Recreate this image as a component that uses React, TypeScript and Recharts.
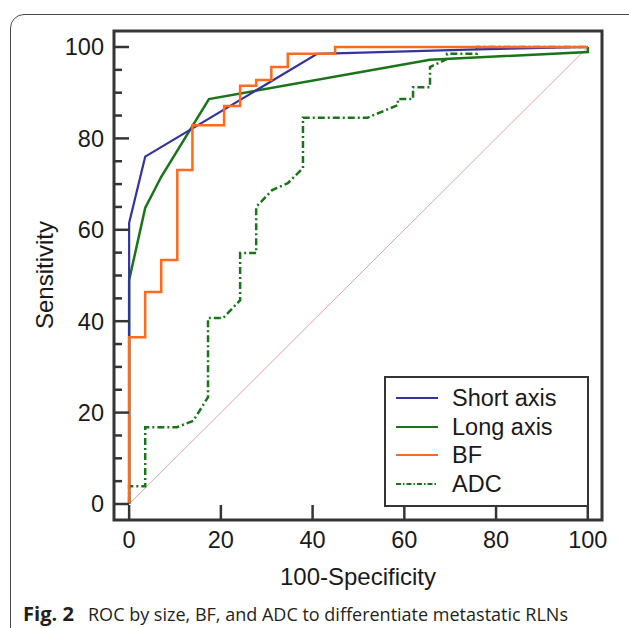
import * as React from 'react';
import { LineChart, Line, XAxis, YAxis, ReferenceArea, Legend, Label } from 'recharts';

// ROC points (x = 100-specificity, y = sensitivity)
const shortFpr = [0, 0, 3.5, 41, 76, 100];
const shortTpr = [0, 61.5, 76, 98.5, 99.5, 100];

const longFpr = [0, 0, 3.5, 7, 17.4, 65.6, 100, 100];
const longTpr = [0, 49, 64.8, 71.6, 88.6, 97.2, 98.9, 100];

const bfFpr = [0, 0, 3.5, 3.5, 7, 7, 10.5, 10.5, 13.8, 13.8, 20.7, 20.7, 24.2, 24.2, 27.7, 27.7, 31, 31, 34.6, 34.6, 44.9, 44.9, 100];
const bfTpr = [0, 36.5, 36.5, 46.4, 46.4, 53.4, 53.4, 73.1, 73.1, 82.9, 82.9, 87.1, 87.1, 91.5, 91.5, 92.8, 92.8, 95.6, 95.6, 98.5, 98.5, 100, 100];

const adcFpr = [0, 0, 3.5, 3.5, 10.4, 14, 17.2, 17.2, 20.5, 24.2, 24.2, 27.7, 27.7, 31.2, 34.6, 37.9, 37.9, 51.9, 58.6, 58.6, 61.9, 61.9, 65.6, 65.6, 69.3, 69.3, 75.8, 75.8, 100];
const adcTpr = [0, 3.9, 3.9, 16.8, 16.8, 18.2, 23.4, 40.7, 40.7, 44.6, 54.9, 54.9, 65, 68.7, 70.2, 73.5, 84.5, 84.5, 87.3, 88.6, 88.6, 91.2, 91.2, 95.6, 97.4, 98.5, 98.5, 100, 100];

const refFpr = [0, 100];
const refTpr = [0, 100];

const xTicks = [0, 20, 40, 60, 80, 100];
const yTicks = [0, 5, 10, 15, 20, 25, 30, 35, 40, 45, 50, 55, 60, 65, 70, 75, 80, 85, 90, 95, 100];
const legendOrder = ['Short axis', 'Long axis', 'BF', 'ADC'];

const toPoints = (xs: number[], ys: number[]) => xs.map((x, i) => ({ x, y: ys[i] }));

const X_DOMAIN = [-3.3, 103.1];
const Y_DOMAIN = [-3.5, 103.5];
const Y_AXIS_WIDTH = 60;
const MARGIN = { top: 31, right: 27, bottom: 0, left: 114 - Y_AXIS_WIDTH };
const AXIS_COLOR = '#353535';
const FONT = '"Liberation Sans", Arial, sans-serif';
const TICK_GAP = 10;

const YTick = (props: any) => {
  const { x, y, payload } = props;
  const major = payload.value % 20 === 0;
  const left = x + TICK_GAP;
  return (
    <g>
      <line x1={left} x2={left + (major ? 15 : 8)} y1={y} y2={y} stroke={AXIS_COLOR} strokeWidth={2.5} />
      {major && (
        <text x={x} y={y} dy="0.36em" textAnchor="end" fontSize={23.5} fill="#1a1a1a" fontFamily={FONT}>
          {payload.value}
        </text>
      )}
    </g>
  );
};

const XTick = (props: any) => {
  const { x, y, payload } = props;
  const bottom = y - TICK_GAP;
  return (
    <g>
      <line x1={x} x2={x} y1={bottom} y2={bottom - 15} stroke={AXIS_COLOR} strokeWidth={2.5} />
      <text x={x} y={y} dy="0.75em" textAnchor="middle" fontSize={23.5} fill="#1a1a1a" fontFamily={FONT}>
        {payload.value}
      </text>
    </g>
  );
};

const LegendBox = (props: any) => {
  const items = (props.payload || [])
    .filter((p: any) => legendOrder.includes(p.value))
    .sort((a: any, b: any) => legendOrder.indexOf(a.value) - legendOrder.indexOf(b.value));
  return (
    <div
      style={{
        width: 205,
        height: 131,
        boxSizing: 'border-box',
        border: `2px solid ${AXIS_COLOR}`,
        background: '#fff',
        paddingTop: 6,
        fontFamily: FONT,
      }}
    >
      {items.map((p: any) => (
        <div key={p.value} style={{ display: 'flex', alignItems: 'center', height: 28.5 }}>
          <svg width={66} height={10} style={{ flex: 'none' }}>
            <line
              x1={10}
              x2={52}
              y1={5}
              y2={5}
              stroke={p.color}
              strokeWidth={2}
              strokeDasharray={p.value === 'ADC' ? '5 2 1.5 2' : undefined}
            />
          </svg>
          <span style={{ fontSize: 23.5, color: '#1a1a1a', lineHeight: '28px' }}>{p.value}</span>
        </div>
      ))}
    </div>
  );
};

export default function App() {
  return (
    <div style={{ position: 'absolute', left: 0, top: 0, width: 629, height: 628, overflow: 'hidden', background: '#fff' }}>
      <div
        style={{
          position: 'absolute',
          left: 10,
          top: 14,
          width: 640,
          height: 640,
          border: '1.5px solid #4a4a4a',
          borderRadius: 14,
        }}
      />
      <div style={{ position: 'absolute', left: 0, top: 0 }}>
        <LineChart width={629} height={628} margin={MARGIN}>
          <XAxis
            dataKey="x"
            type="number"
            domain={X_DOMAIN}
            ticks={xTicks}
            height={108}
            tickSize={0}
            tickMargin={TICK_GAP}
            tickLine={false}
            axisLine={false}
            tick={<XTick />}
            allowDataOverflow
          >
            <Label
              value="100-Specificity"
              position="insideBottom"
              offset={43}
              style={{ fontSize: 24, fill: '#1a1a1a', fontFamily: FONT }}
            />
          </XAxis>
          <YAxis
            type="number"
            domain={Y_DOMAIN}
            ticks={yTicks}
            width={Y_AXIS_WIDTH}
            tickSize={0}
            tickMargin={TICK_GAP}
            tickLine={false}
            axisLine={false}
            tick={<YTick />}
            interval={0}
            allowDataOverflow
          />
          <ReferenceArea
            x1={X_DOMAIN[0]}
            x2={X_DOMAIN[1]}
            y1={Y_DOMAIN[0]}
            y2={Y_DOMAIN[1]}
            fill="none"
            stroke={AXIS_COLOR}
            strokeWidth={3}
            ifOverflow="visible"
          />
          <Line data={toPoints(refFpr, refTpr)} dataKey="y" name="ref" stroke="#dca7a7" strokeWidth={1} dot={false} legendType="none" isAnimationActive={false} />
          <Line data={toPoints(adcFpr, adcTpr)} dataKey="y" name="ADC" stroke="#1a741a" strokeWidth={2.5} strokeDasharray="7 3 2 3" dot={false} isAnimationActive={false} />
          <Line data={toPoints(longFpr, longTpr)} dataKey="y" name="Long axis" stroke="#1a741a" strokeWidth={2.5} dot={false} isAnimationActive={false} />
          <Line data={toPoints(shortFpr, shortTpr)} dataKey="y" name="Short axis" stroke="#34349c" strokeWidth={2.2} dot={false} isAnimationActive={false} />
          <Line data={toPoints(bfFpr, bfTpr)} dataKey="y" name="BF" stroke="#ff6a1f" strokeWidth={2.5} dot={false} isAnimationActive={false} />
          <Legend
            verticalAlign="middle"
            layout="horizontal"
            content={<LegendBox />}
            wrapperStyle={{ left: 384, top: 376, width: 205, height: 131 }}
          />
        </LineChart>
      </div>
      <svg style={{ position: 'absolute', left: 0, top: 590 }} width={629} height={38}>
        <text x={23} y={31} fontFamily='"Open Sans", sans-serif' fontWeight={700} fontSize={19} fill="#231f20" textLength={51} lengthAdjust="spacingAndGlyphs">
          Fig. 2
        </text>
        <text x={88} y={31} fontFamily='"Open Sans", sans-serif' fontSize={19} fill="#231f20" textLength={480} lengthAdjust="spacingAndGlyphs">
          ROC by size, BF, and ADC to differentiate metastatic RLNs
        </text>
      </svg>
      <div
        style={{
          position: 'absolute',
          left: 45,
          top: 275,
          transform: 'translate(-50%, -50%) rotate(-90deg)',
          fontFamily: FONT,
          fontSize: 24,
          color: '#1a1a1a',
          whiteSpace: 'nowrap',
        }}
      >
        Sensitivity
      </div>
    </div>
  );
}
